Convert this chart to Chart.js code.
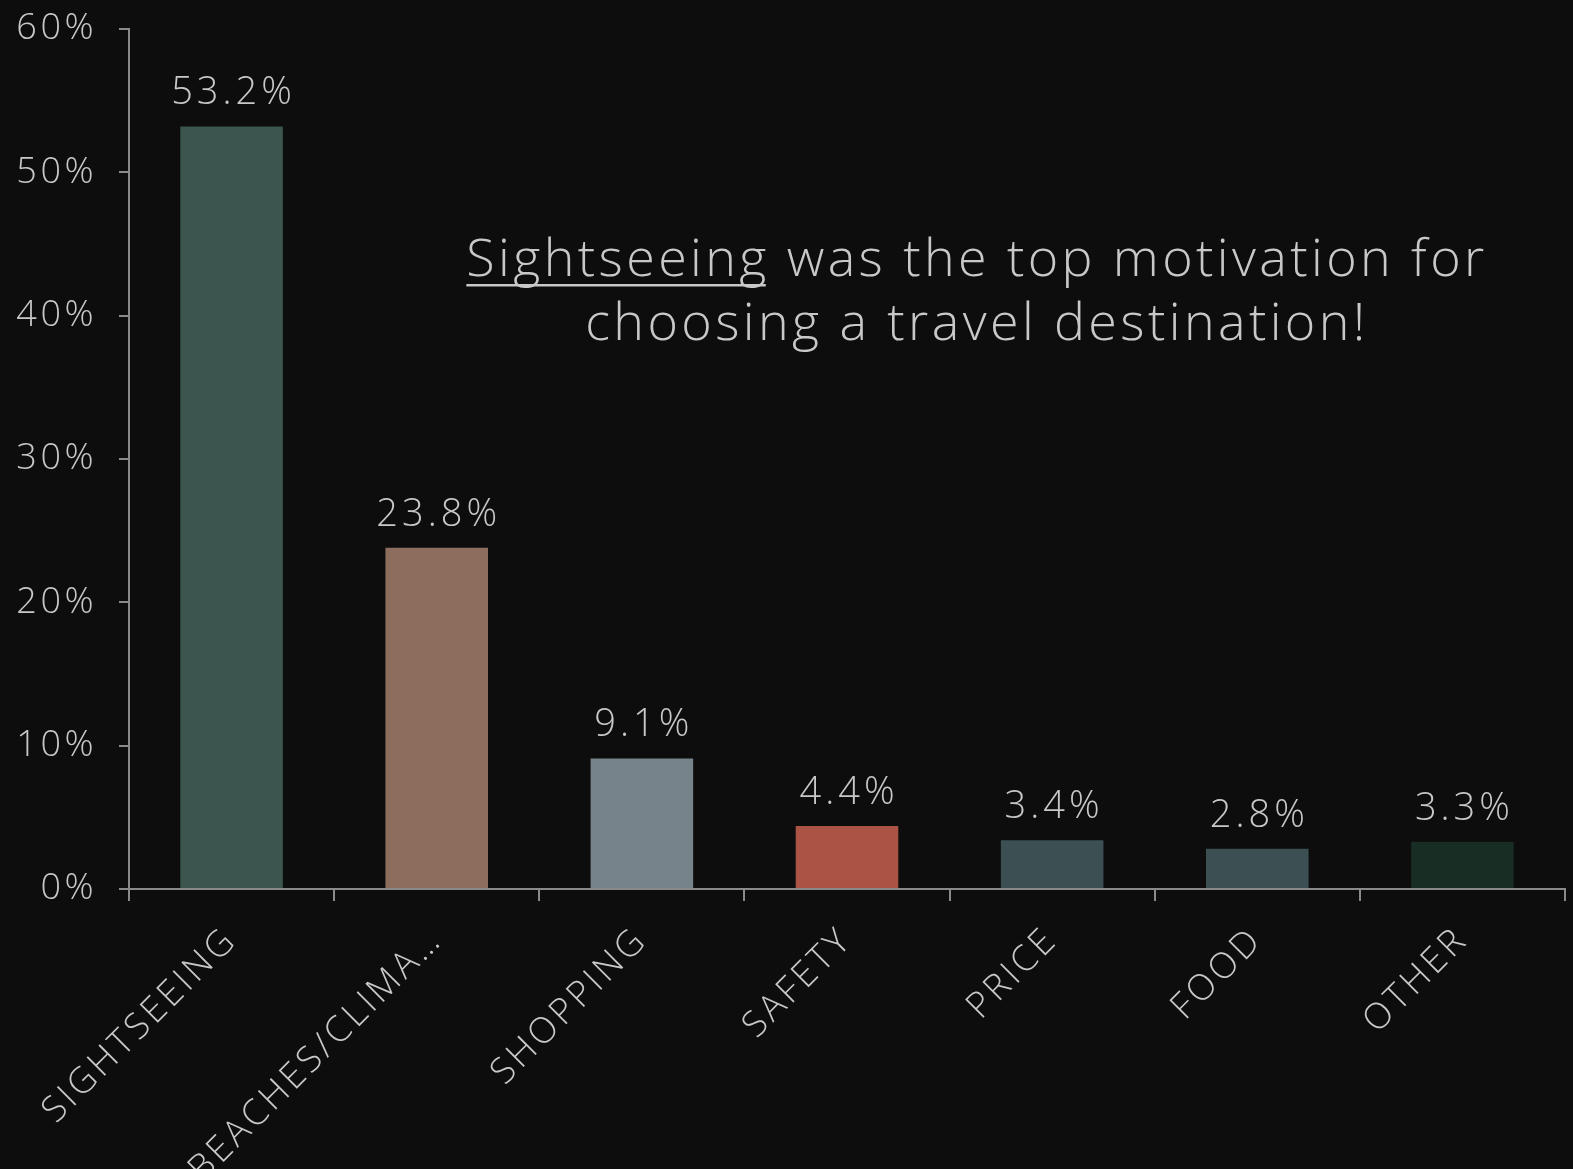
<!DOCTYPE html>
<html>
<head>
<meta charset="utf-8">
<script src="https://cdn.jsdelivr.net/npm/chart.js@4.4.1/dist/chart.umd.min.js"></script>
<style>
  html, body { margin: 0; padding: 0; background: #0d0d0d; }
  #wrap { width: 1573px; height: 1169px; }
</style>
</head>
<body>
<div id="wrap"><canvas id="chart"></canvas></div>
<script>
// ── Data ─────────────────────────────────────────────────────
const categories = ['SIGHTSEEING', 'BEACHES/CLIMA…', 'SHOPPING', 'SAFETY', 'PRICE', 'FOOD', 'OTHER'];
const shares     = [53.2, 23.8, 9.1, 4.4, 3.4, 2.8, 3.3];
const barColors  = ['#3c554f', '#8d6e5e', '#76838a', '#ab5446', '#3c4f53', '#3c4f53', '#182d24'];
const yTicks     = [0, 10, 20, 30, 40, 50, 60];

const TEXT    = '#c8c8c8';
const AXIS    = '#8a8a8a';
const FONT    = '"Open Sans", Lato, sans-serif';
const SPACING = '3.5px';

// ── Letter spacing for all canvas text ───────────────────────
const spacing = {
    id: 'spacing',
    beforeLayout(chart) { chart.ctx.letterSpacing = SPACING; },
    beforeDraw(chart)   { chart.ctx.letterSpacing = SPACING; }
};

// ── Value labels above bars ──────────────────────────────────
const valueLabels = {
    id: 'valueLabels',
    afterDatasetsDraw(chart) {
        const ctx = chart.ctx;
        const meta = chart.getDatasetMeta(0);
        ctx.save();
        ctx.fillStyle = TEXT;
        ctx.font = '300 38px ' + FONT;
        ctx.letterSpacing = '4px';
        ctx.textAlign = 'center';
        ctx.textBaseline = 'bottom';
        meta.data.forEach((bar, i) => {
            ctx.fillText(shares[i].toFixed(1) + '%', bar.x + 2, bar.y - 14);
        });
        ctx.restore();
    }
};

// ── Annotation text ──────────────────────────────────────────
const annotation = {
    id: 'annotation',
    afterDraw(chart) {
        const ctx = chart.ctx;
        const cx = 977;
        ctx.save();
        ctx.fillStyle = TEXT;
        ctx.font = '300 52px ' + FONT;
        ctx.letterSpacing = '3.4px';
        ctx.textBaseline = 'middle';
        const first = 'Sightseeing';
        const rest  = ' was the top motivation for';
        const w1 = ctx.measureText(first).width;
        const w2 = ctx.measureText(rest).width;
        const x0 = cx - (w1 + w2) / 2;
        ctx.textAlign = 'left';
        ctx.fillText(first, x0, 261);
        ctx.fillText(rest, x0 + w1, 261);
        ctx.fillRect(x0, 284, w1 - 4, 2.5);
        ctx.textAlign = 'center';
        ctx.fillText('choosing a travel destination!', cx, 325);
        ctx.restore();
    }
};

new Chart(document.getElementById('chart'), {
    type: 'bar',
    data: {
        labels: categories,
        datasets: [{
            data: shares,
            backgroundColor: barColors,
            borderWidth: 0,
            categoryPercentage: 1,
            barPercentage: 0.5,
        }]
    },
    options: {
        responsive: true,
        maintainAspectRatio: false,
        animation: false,
        layout: { padding: { top: 0, right: 8, left: 0, bottom: 0 } },
        plugins: {
            legend: { display: false },
            tooltip: { enabled: false }
        },
        scales: {
            y: {
                min: 0, max: 60,
                afterBuildTicks: s => { s.ticks = yTicks.map(v => ({ value: v })); },
                afterFit: s => { s.width = 129; s.paddingTop = 29; s.paddingBottom = 0; },
                ticks: {
                    color: TEXT,
                    font: { family: FONT, size: 36, weight: 300 },
                    padding: 22,
                    callback: v => v + '%'
                },
                grid: { display: true, drawOnChartArea: false, drawTicks: true, tickLength: 10, color: AXIS, lineWidth: 2 },
                border: { display: true, color: AXIS, width: 2 }
            },
            x: {
                afterFit: s => { s.height = 280; },
                ticks: {
                    color: TEXT,
                    font: { family: FONT, size: 36, weight: 300 },
                    maxRotation: 45, minRotation: 45,
                    padding: 18,
                    autoSkip: false
                },
                grid: { display: true, offset: true, drawOnChartArea: false, drawTicks: true, tickLength: 12, color: AXIS, lineWidth: 2 },
                border: { display: true, color: AXIS, width: 2 }
            }
        }
    },
    plugins: [spacing, valueLabels, annotation]
});
</script>
</body>
</html>
